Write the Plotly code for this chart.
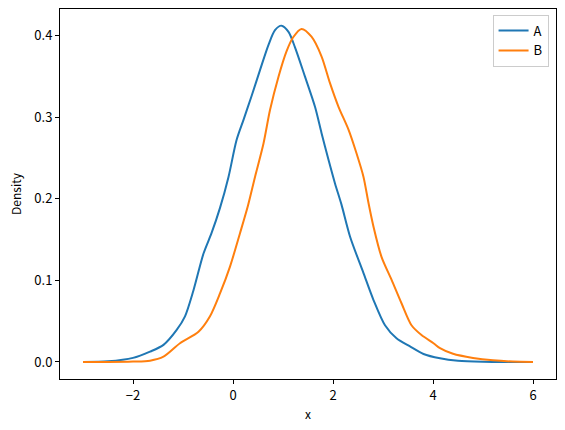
import plotly.graph_objects as go

# density curve A
x_a = [-3.0, -2.5, -2.0, -1.66, -1.39, -1.13, -0.96, -0.79, -0.59, -0.43, -0.26, -0.09,
       0.07, 0.21, 0.37, 0.54, 0.71, 0.84, 0.97, 1.11, 1.24, 1.44, 1.64, 1.77, 1.91, 2.04,
       2.17, 2.34, 2.61, 2.81, 3.04, 3.27, 3.54, 3.81, 4.14, 4.5, 5.0, 5.5, 6.0]
y_a = [0.0, 0.0008, 0.005, 0.0127, 0.021, 0.039, 0.056, 0.088, 0.133, 0.158, 0.189, 0.227,
       0.272, 0.297, 0.326, 0.358, 0.389, 0.407, 0.4126, 0.405, 0.386, 0.350, 0.313, 0.281,
       0.248, 0.219, 0.193, 0.154, 0.109, 0.076, 0.045, 0.029, 0.019, 0.0098, 0.0045,
       0.0015, 0.0003, 0.0, 0.0]

# density curve B
x_b = [-3.0, -2.5, -2.0, -1.66, -1.39, -1.06, -0.69, -0.46, -0.26, -0.06, 0.14, 0.3, 0.44,
       0.61, 0.74, 0.91, 1.07, 1.2, 1.37, 1.57, 1.77, 1.94, 2.11, 2.31, 2.47, 2.61, 2.71,
       2.81, 2.97, 3.17, 3.37, 3.57, 3.77, 4.01, 4.14, 4.4, 4.8, 5.2, 5.6, 6.0]
y_b = [0.0, 0.0, 0.0005, 0.0016, 0.0065, 0.023, 0.037, 0.056, 0.084, 0.117, 0.158, 0.192,
       0.227, 0.268, 0.309, 0.350, 0.381, 0.398, 0.4086, 0.399, 0.375, 0.342, 0.313, 0.285,
       0.256, 0.227, 0.195, 0.166, 0.129, 0.101, 0.072, 0.045, 0.033, 0.023, 0.017, 0.010,
       0.005, 0.002, 0.0005, 0.0]

x_ticks = [-2, 0, 2, 4, 6]
y_ticks = [0.0, 0.1, 0.2, 0.3, 0.4]

fig = go.Figure()
fig.add_trace(go.Scatter(x=x_a, y=y_a, mode="lines", name="A",
                         line=dict(color="#1f77b4", width=2, shape="spline", smoothing=0.8)))
fig.add_trace(go.Scatter(x=x_b, y=y_b, mode="lines", name="B",
                         line=dict(color="#ff7f0e", width=2, shape="spline", smoothing=0.8)))

axis_style = dict(showline=True, linecolor="black", linewidth=1, mirror=True,
                  ticks="outside", ticklen=4, tickcolor="black", showgrid=False,
                  zeroline=False)

fig.update_layout(
    width=565, height=430,
    margin=dict(l=60, r=9, t=9, b=51),
    paper_bgcolor="white", plot_bgcolor="white",
    font=dict(family="Noto Sans CJK JP, DejaVu Sans", size=13, color="black"),
    xaxis=dict(range=[-3.46, 6.46], tickvals=x_ticks, ticktext=["\u22122", "0", "2", "4", "6"],
               title=dict(text="x", font=dict(size=12), standoff=8), **axis_style),
    yaxis=dict(range=[-0.0209, 0.433], tickvals=y_ticks, tickformat=".1f",
               title=dict(text="Density", font=dict(size=12), standoff=10), **axis_style),
    legend=dict(x=0.985, y=0.985, xanchor="right", yanchor="top",
                bordercolor="#cccccc", borderwidth=1, bgcolor="white",
                font=dict(size=13)),
    showlegend=True,
)

# drop the page's default body margin so the figure sits at the window corner
fig.write_html("out.html", config={"displayModeBar": False},
               post_script="document.body.style.margin='0';")
